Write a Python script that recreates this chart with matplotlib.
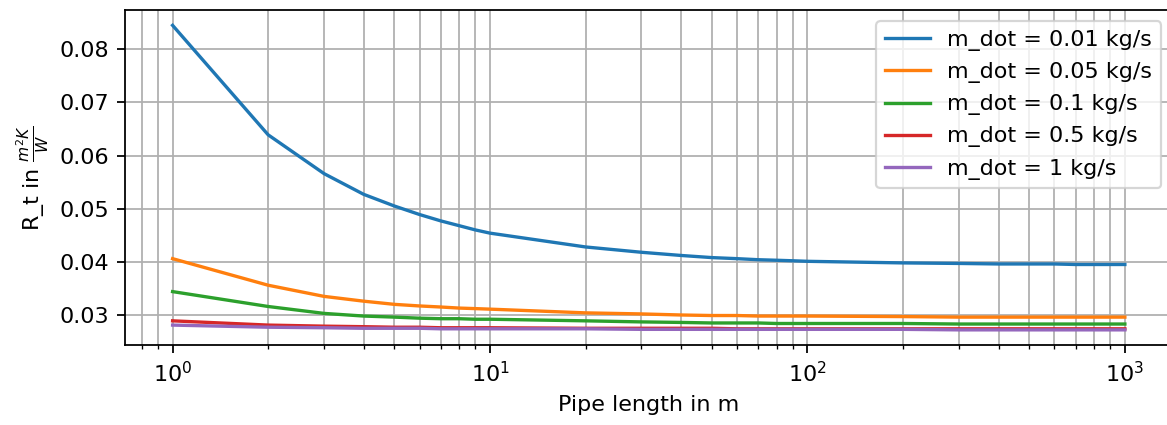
import numpy as np
import matplotlib
matplotlib.use('Agg')
import matplotlib.pyplot as plt

# pipe lengths in m
L = [1, 2, 3, 4, 5, 6, 7, 8, 9, 10,
     20, 30, 40, 50, 60, 70, 80, 90, 100,
     200, 300, 400, 500, 600, 700, 800, 900, 1000]

# R_t values
r_001 = [0.0845, 0.0639, 0.0566, 0.0527, 0.0505, 0.0489, 0.0477, 0.0468, 0.0460, 0.0454,
         0.0428, 0.0418, 0.0412, 0.0408, 0.0406, 0.0404, 0.0403, 0.0402, 0.0401,
         0.0398, 0.0397, 0.0396, 0.0396, 0.0396, 0.0395, 0.0395, 0.0395, 0.0395]
r_005 = [0.0406, 0.0356, 0.0335, 0.0326, 0.0320, 0.0317, 0.0315, 0.0313, 0.0312, 0.0311,
         0.0304, 0.0302, 0.0300, 0.0299, 0.0299, 0.0298, 0.0298, 0.0298, 0.0298,
         0.0297, 0.0296, 0.0296, 0.0296, 0.0296, 0.0296, 0.0296, 0.0296, 0.0296]
r_01 = [0.0344, 0.0316, 0.0303, 0.0298, 0.0296, 0.0294, 0.0293, 0.0293, 0.0292, 0.0292,
        0.0289, 0.0287, 0.0286, 0.0285, 0.0285, 0.0285, 0.0284, 0.0284, 0.0284,
        0.0284, 0.0283, 0.0283, 0.0283, 0.0283, 0.0283, 0.0283, 0.0283, 0.0283]
r_05 = [0.0289, 0.0281, 0.0279, 0.0278, 0.0277, 0.0277, 0.0276, 0.0276, 0.0276, 0.0276,
        0.0275, 0.0275, 0.0275, 0.0275, 0.0274, 0.0274, 0.0274, 0.0274, 0.0274,
        0.0274, 0.0274, 0.0274, 0.0274, 0.0274, 0.0274, 0.0274, 0.0274, 0.0274]
r_1 = [0.0281, 0.0277, 0.0276, 0.0275, 0.0275, 0.0275, 0.0274, 0.0274, 0.0274, 0.0274,
       0.0274, 0.0273, 0.0273, 0.0273, 0.0273, 0.0273, 0.0273, 0.0273, 0.0273,
       0.0273, 0.0272, 0.0272, 0.0272, 0.0272, 0.0272, 0.0272, 0.0272, 0.0272]

labels = ['m_dot = 0.01 kg/s', 'm_dot = 0.05 kg/s', 'm_dot = 0.1 kg/s',
          'm_dot = 0.5 kg/s', 'm_dot = 1 kg/s']

# original looks rendered at ~160 dpi
fig = plt.figure(figsize=(1167/160, 425/160), dpi=160)
# axes runs off the right edge like in the original picture
ax = fig.add_axes([0.1071, 0.188, 0.8976, 0.7882])

for r, lab in zip([r_001, r_005, r_01, r_05, r_1], labels):
    ax.plot(L, r, label=lab)

ax.set_xscale('log')
ax.set_xlabel('Pipe length in m')
ax.set_ylabel(r'R_t in $\frac{m^2K}{W}$')
ax.grid(which='both')
ax.legend(loc='upper right')

fig.savefig('out.png', dpi=160)
